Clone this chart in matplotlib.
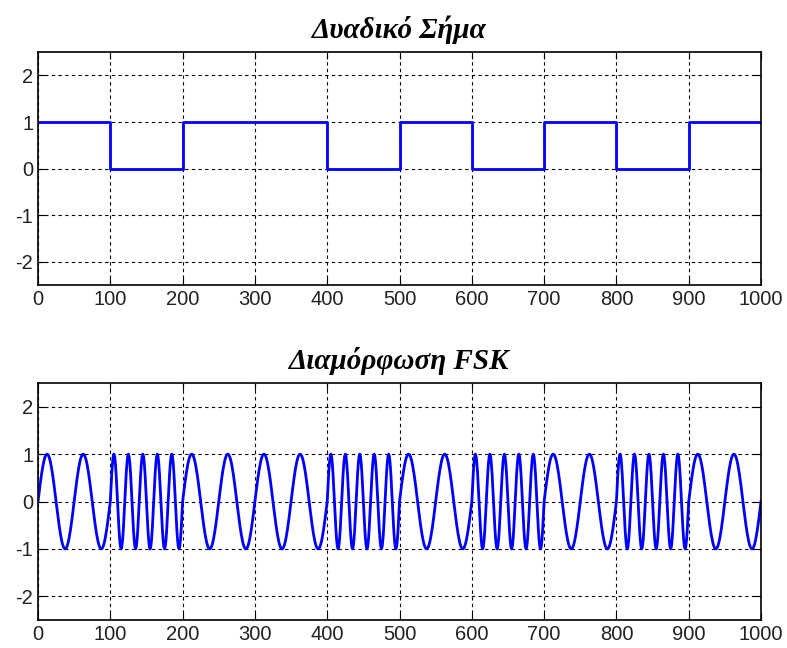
import numpy as np
import matplotlib.pyplot as plt

plt.rcParams['axes.unicode_minus'] = False

# bit sequence, 100 samples per bit
bits = [1, 0, 1, 1, 0, 1, 0, 1, 0, 1]
samples_per_bit = 100
cycles_one = 2    # cycles per bit for '1'
cycles_zero = 5   # cycles per bit for '0'

yticks = [-2, -1, 0, 1, 2]
xticks = np.arange(0, 1001, 100)

n = np.arange(0, len(bits) * samples_per_bit + 1)
bit_of_n = np.array(bits)[np.minimum(n // samples_per_bit, len(bits) - 1)]
freq = np.where(bit_of_n == 1, cycles_one, cycles_zero) / samples_per_bit
fsk = np.sin(2 * np.pi * freq * n)

step_x = np.arange(0, len(bits) + 1) * samples_per_bit
step_y = bits + [bits[-1]]

fig = plt.figure(figsize=(7.87, 6.48), dpi=100)
ax1 = fig.add_axes([0.0483, 0.560, 0.9187, 0.3596])
ax2 = fig.add_axes([0.0483, 0.0432, 0.9187, 0.3657])

title_font = dict(family='Liberation Serif', fontsize=21, fontweight='bold', fontstyle='italic')

ax1.step(step_x, step_y, where='post', color='blue', linewidth=2)
ax1.set_title('Δυαδικό Σήμα', pad=10, **title_font)

ax2.plot(n, fsk, color='blue', linewidth=2)
ax2.set_title('Διαμόρφωση FSK', pad=10, **title_font)

for ax in (ax1, ax2):
    ax.set_xlim(0, 1000)
    ax.set_ylim(-2.5, 2.5)
    ax.set_xticks(xticks)
    ax.set_yticks(yticks)
    ax.grid(True, color='black', linestyle=(0, (3, 3)), linewidth=0.8)
    ax.tick_params(direction='in', length=5, labelsize=14.5, top=True, right=True,
                   colors='black', labelcolor='#222222')
    for lab in ax.get_xticklabels() + ax.get_yticklabels():
        lab.set_family('Liberation Sans')
    for s in ax.spines.values():
        s.set_linewidth(1.2)

fig.savefig('out.png', dpi=100)
